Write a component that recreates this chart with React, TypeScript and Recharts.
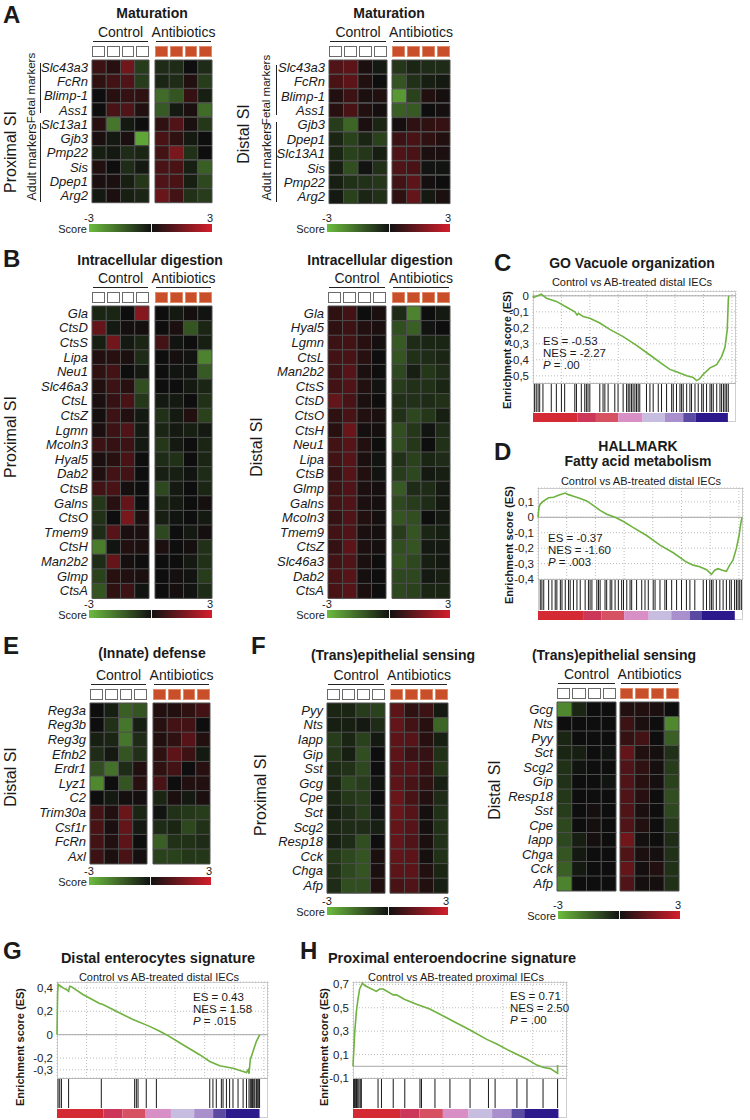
import React from "react";
import {
  BarChart,
  Bar,
  Cell,
  XAxis,
  YAxis,
  LineChart,
  Line,
  CartesianGrid,
  ReferenceLine,
  ReferenceArea,
  ScatterChart,
  Scatter,
} from "recharts";

const FONT = "'Liberation Sans', Arial, Helvetica, sans-serif";

// ---- heatmap data (score -3..3), 4 control + 4 antibiotic samples per gene ----
const A_PROX_GENES = ["Slc43a3", "FcRn", "Blimp-1", "Ass1", "Slc13a1", "Gjb3", "Pmp22", "Sis", "Dpep1", "Arg2"];
const A_PROX_CTRL = [
  [0.7, 0.4, 1.5, -0.8], [0.5, 0.8, 1.0, -0.8], [0, 0.4, 0.6, 0.5], [0, 0.9, 1.0, 0.3], [0.4, -1.8, -0.2, 0],
  [0.2, -0.2, 0.2, -2.6], [-0.3, -0.2, -0.5, -0.4], [0.3, 0, -0.5, -0.2], [0.2, 0.2, -0.3, -0.7], [-0.2, 0.2, -0.3, -0.4],
];
const A_PROX_AB = [
  [-0.5, -0.5, 0, -0.5], [-0.4, -0.5, 0.3, -0.8], [-1.6, -1.2, 0.6, -0.3], [-1.3, -0.2, 0.2, -1.6], [0.5, 1.0, 0.2, -0.7],
  [0.9, 0.5, -0.2, 0], [0.8, 1.6, -0.6, 0], [0.9, 0.9, -0.3, -1.4], [1.0, 0.9, -0.3, -1.0], [1.4, 0.8, -0.6, -0.8],
];

const A_DIST_GENES = ["Slc43a3", "FcRn", "Blimp-1", "Ass1", "Gjb3", "Dpep1", "Slc13A1", "Sis", "Pmp22", "Arg2"];
const A_DIST_CTRL = [
  [1.0, 1.2, 0.2, -0.2], [0.9, 1.2, 0.3, 0], [0.3, 0.7, 0.2, 0.3], [0.4, 0.9, 0.3, 0.1], [-0.8, -1.5, 0.2, -0.4],
  [-0.4, -0.9, -0.4, -0.9], [-0.4, -0.9, -0.7, -0.3], [-0.3, -1.1, -0.1, -0.6], [-0.3, -0.6, -0.6, -0.7], [-0.2, -0.9, -0.4, -0.6],
];
const A_DIST_AB = [
  [-0.7, -0.4, -0.5, -0.5], [-1.2, -0.6, -0.3, -0.2], [-2.4, -0.9, 0.3, 0.1], [-1.4, -1.3, 0, 0.1], [0.1, 0.5, 0.5, 0.6],
  [0.7, 0.9, 0.5, 0.3], [1.0, 0.9, 0.2, 0.2], [1.0, 0.9, -0.1, -0.1], [0.8, 1.2, 0.1, 0], [0.5, 1.3, -0.2, 0.2],
];

const B_PROX_GENES = ["Gla", "CtsD", "CtsS", "Lipa", "Neu1", "Slc46a3", "CtsL", "CtsZ", "Lgmn", "Mcoln3", "Hyal5", "Dab2", "CtsB", "Galns", "CtsO", "Tmem9", "CtsH", "Man2b2", "Glmp", "CtsA"];
const B_PROX_CTRL = [
  [-0.4, -0.4, 0, 1.8], [1.3, -0.2, 0.1, 0.1], [-0.3, 1.5, -0.2, -0.4], [0.3, 0.4, 0.2, -0.5], [0.5, 0.8, 0, -0.2],
  [0.3, 0.7, 0.4, -1.1], [0.2, 0.6, 0.9, -0.7], [0.1, 0.7, 0.3, -0.2], [0.2, 0.7, 1.0, -0.2], [0.7, 0.6, 0.7, -0.2],
  [0.2, 0.4, 0.9, 0], [0.3, 0.8, 0.8, 0], [0.8, 0.9, 0.1, 0], [-0.7, 0.4, 1.3, 0], [-0.6, 0, 1.6, 0.2],
  [-0.5, 1.1, 0.2, 0.2], [-1.9, -0.1, 0.3, 0.2], [-0.5, 1.3, 0.1, 0], [-0.9, 0.4, 0.3, 0.2], [-1.2, 0.5, 0.7, -0.1],
];
const B_PROX_AB = [
  [0, -0.2, 0.1, -0.1], [0, 0.2, -1.2, -0.4], [0.8, -0.1, 0, -0.3], [0, 0.1, -0.1, -2.0], [0, -0.1, -0.1, -1.3],
  [0, 0, -0.2, -0.4], [-0.2, -0.2, 0, -0.6], [-0.6, -0.2, 0.3, -0.9], [-0.4, -0.2, -0.3, -0.2], [-0.7, -0.2, 0, -0.4],
  [-0.5, -0.6, 0, -0.4], [-0.3, -0.3, -0.1, -0.5], [-1.0, -0.2, 0, -0.4], [-0.4, -0.2, 0, 0.1], [-0.3, -0.1, 0, -0.2],
  [-1.0, 0, -0.2, 0.1], [0.2, 0, 0.1, -0.6], [0, 0, -0.2, -0.6], [0, 0.1, -0.1, -0.8], [0, 0.1, -0.1, -0.5],
];

const B_DIST_GENES = ["Gla", "Hyal5", "Lgmn", "CtsL", "Man2b2", "CtsS", "CtsD", "CtsO", "CtsH", "Neu1", "Lipa", "CtsB", "Glmp", "Galns", "Mcoln3", "Tmem9", "CtsZ", "Slc46a3", "Dab2", "CtsA"];
const B_DIST_CTRL = [
  [0.5, 0.8, 0, 0.2], [0.5, 0.7, 0.3, 0.2], [0.7, 0.8, 0.4, 0.1], [0.8, 0.9, 0.4, 0], [0.7, 1.1, 0.2, 0],
  [0.8, 1.0, 0.3, -0.1], [1.3, 0.9, 0.2, 0], [0.5, 0.9, 0.3, 0.2], [0.4, 1.4, 0.1, 0.1], [0.8, 1.1, 0.3, 0],
  [0.8, 1.1, 0.2, -0.1], [0.6, 1.1, 0.3, -0.1], [0.7, 1.0, 0.2, 0.1], [0.8, 1.0, 0.2, 0.1], [0.6, 1.0, 0.3, 0.1],
  [0.8, 1.0, 0.2, 0.1], [0.6, 1.2, 0.2, 0.1], [0.8, 1.0, 0.2, 0], [0.9, 1.1, 0.1, 0], [0.9, 1.1, 0.2, 0],
];
const B_DIST_AB = [
  [-0.5, -2.0, 0, -0.2], [-1.1, -1.4, -0.1, 0], [-1.3, -0.5, -0.4, -0.4], [-1.2, -0.6, -0.5, -0.4], [-1.0, -0.3, -0.7, -0.5],
  [-0.8, -0.6, -0.6, -0.4], [-0.6, -0.6, -0.5, -0.6], [-0.6, -1.0, -0.7, -0.3], [-1.1, -0.7, -0.1, -0.5], [-1.1, -0.7, 0, -0.6],
  [-0.6, -0.9, -0.4, -0.5], [-0.8, -1.0, -0.2, -0.3], [-1.3, -0.5, -0.5, -0.2], [-1.0, -0.8, -0.5, -0.2], [-1.2, -1.1, 0, -0.2],
  [-0.8, -1.2, -0.4, -0.3], [-1.1, -1.2, -0.2, -0.2], [-1.2, -1.0, -0.3, -0.2], [-1.0, -1.0, -0.2, -0.3], [-1.0, -0.9, -0.4, -0.4],
];

const E_GENES = ["Reg3a", "Reg3b", "Reg3g", "Efnb2", "Erdr1", "Lyz1", "C2", "Trim30a", "Csf1r", "FcRn", "Axl"];
const E_CTRL = [
  [0, -0.3, -1.4, -1.2], [0, -0.6, -1.8, -0.3], [-0.3, -0.4, -1.8, -0.5], [-0.5, -0.2, -1.2, -0.6], [-1.1, -1.7, -0.5, 0.3],
  [-2.1, 0, -1.2, 0.4], [0, -0.2, 0.1, 0.1], [0.8, 0.3, 1.4, -0.4], [0.9, 0.2, 1.3, -0.2], [0.8, 0.3, 1.2, 0], [0.7, 0.2, 0.9, 0.1],
];
const E_AB = [
  [0.3, 0.3, 0.5, 0.8], [0.4, 0.8, 0.8, 0], [0.3, 0.5, 1.1, 0.3], [0.5, 1.2, 0.7, -0.2], [0.5, 0.8, 0, 0.4],
  [0.9, 0, 0.3, 0.3], [-0.4, 0.2, -0.2, 0.2], [-0.1, -0.6, -0.7, -0.8], [-0.5, -0.4, -1.0, -0.6], [-1.4, -0.6, -0.6, -0.5], [-0.9, -0.9, -0.7, -0.7],
];

const F_PROX_GENES = ["Pyy", "Nts", "Iapp", "Gip", "Sst", "Gcg", "Cpe", "Sct", "Scg2", "Resp18", "Cck", "Chga", "Afp"];
const F_PROX_CTRL = [
  [-0.4, -0.4, -0.8, -0.9], [-0.3, -0.3, -0.2, -0.5], [-0.8, -0.4, -0.9, -0.2], [-0.7, -0.3, -1.1, 0], [-0.5, -0.6, -1.0, 0],
  [-0.4, -1.0, -0.8, -0.1], [-0.4, -0.7, -0.8, 0], [-0.3, -0.5, -0.8, -0.1], [-0.4, -0.5, -0.5, -0.3], [-0.3, -0.5, -1.1, 0],
  [-0.7, -1.0, -1.2, 0.2], [-0.6, -1.0, -1.2, 0.2], [-0.5, -1.1, -1.1, 0.3],
];
const F_PROX_AB = [
  [1.2, 0.5, 0.7, -0.2], [1.3, 0.8, 0.4, -1.5], [1.2, 1.1, 0.4, -0.3], [1.2, 0.7, 0.6, -0.6], [1.1, 1.1, 0.6, -0.7],
  [1.2, 0.9, 0.5, -0.3], [1.4, 0.9, 0.3, -0.5], [1.4, 1.1, 0.1, -0.6], [1.3, 1.1, 0.1, -0.6], [1.3, 1.0, 0.2, -0.6],
  [1.3, 1.2, 0.1, -0.6], [1.2, 1.2, 0.3, -0.4], [0.9, 1.0, 0.3, -0.3],
];

const F_DIST_GENES = ["Gcg", "Nts", "Pyy", "Sct", "Scg2", "Gip", "Resp18", "Sst", "Cpe", "Iapp", "Chga", "Cck", "Afp"];
const F_DIST_CTRL = [
  [-2.1, -0.4, 0, 0], [0, 0, 0, 0], [-0.4, 0, 0, 0], [-0.4, -0.3, 0, -0.1], [-0.6, -0.1, 0, 0],
  [-0.6, 0, 0, -0.1], [-0.7, 0, 0, 0], [-0.8, 0, 0.1, 0], [-1.0, 0, 0.1, 0], [-1.0, -0.3, 0.1, 0],
  [-1.2, -0.2, 0, 0], [-1.4, -0.2, 0, 0], [-2.0, 0, 0, 0],
];
const F_DIST_AB = [
  [0.3, 0.3, 0.2, 0], [0.7, 0.2, 0, -2.1], [0.6, 0.8, 0, -1.4], [1.3, 0.3, 0.1, -0.6], [1.0, 0.5, 0.1, -0.8],
  [1.0, 0.4, 0.1, -0.9], [1.0, 0.4, 0, -1.1], [1.0, 0.2, 0, -1.0], [1.0, 0.3, 0, -0.7], [1.5, 0.1, 0, -0.5],
  [1.0, 0.2, 0.1, -0.6], [1.3, 0.1, 0.3, -0.6], [1.0, 0.1, 0.1, -0.6],
];

// ---- GSEA running enrichment scores (x = % of ranked list) ----
const C_X = [0, 0.3, 4.1, 6.6, 11.5, 16.4, 20.6, 21.7, 22.4, 24.7, 28.0, 32.9, 37.8, 44.4, 51.0, 57.6, 64.1, 67.4, 70.7, 75.7, 78.9, 80.6, 82.0, 83.9, 87.2, 90.5, 92.9, 94.6, 95.7, 96.2, 96.4];
const C_ES = [0, -0.01, 0.01, -0.015, -0.035, -0.07, -0.1, -0.12, -0.11, -0.13, -0.14, -0.17, -0.21, -0.255, -0.31, -0.37, -0.43, -0.46, -0.475, -0.5, -0.51, -0.53, -0.52, -0.49, -0.45, -0.43, -0.38, -0.32, -0.21, -0.03, 0];
const C_HITS = [0.8, 1.6, 2.5, 3.3, 4.9, 9.0, 11.5, 14.0, 15.6, 20.6, 21.4, 23.8, 25.5, 26.3, 27.1, 28.0, 32.9, 34.5, 35.4, 37.0, 40.3, 41.9, 44.4, 46.1, 46.9, 47.7, 48.5, 49.3, 50.2, 51.0, 51.8, 52.6, 55.9, 57.6, 59.2, 61.7, 63.3, 65.8, 68.3, 69.1, 70.7, 72.4, 73.2, 74.0, 75.7, 77.3, 78.1, 79.8, 81.4, 83.1, 83.9, 85.5, 87.2, 88.0, 88.8, 90.5, 92.1, 92.9, 93.8, 94.6, 95.4, 96.2];

const D_X = [0, 0.5, 1.1, 2.8, 5.2, 7.6, 10.0, 13.3, 14.9, 17.3, 20.6, 23.8, 27.1, 30.3, 33.5, 37.6, 41.7, 46.5, 53.0, 59.5, 66.0, 72.4, 75.7, 78.9, 82.2, 84.6, 86.2, 87.8, 90.3, 91.9, 93.5, 95.1, 96.8, 98.1, 98.7, 99.5];
const D_ES = [0, 0.065, 0.086, 0.106, 0.127, 0.13, 0.143, 0.157, 0.147, 0.137, 0.122, 0.106, 0.076, 0.045, 0.02, 0, -0.027, -0.067, -0.118, -0.18, -0.23, -0.29, -0.31, -0.32, -0.34, -0.37, -0.343, -0.333, -0.345, -0.35, -0.31, -0.278, -0.2, -0.118, -0.057, 0];
const D_HITS = [1.1, 1.9, 2.8, 5.2, 6.8, 8.4, 9.2, 10.9, 11.7, 13.3, 14.9, 15.7, 17.3, 19.0, 20.6, 23.0, 24.6, 25.4, 26.3, 28.7, 29.5, 30.3, 32.7, 33.5, 35.2, 36.0, 37.6, 39.2, 40.8, 41.7, 43.3, 44.9, 45.7, 48.1, 50.6, 52.2, 53.8, 56.2, 57.1, 59.5, 61.9, 62.7, 65.2, 67.6, 70.0, 72.4, 74.1, 76.5, 80.6, 82.2, 83.8, 84.6, 85.4, 87.0, 88.7, 90.3, 91.9, 93.5, 94.3, 95.9, 96.8, 97.6, 98.4, 99.2];

const G_X = [0, 0.3, 0.6, 1.3, 2.8, 4.4, 5.5, 6.0, 6.8, 12.3, 20.2, 21.8, 28.1, 36.0, 43.9, 48.7, 51.8, 59.7, 67.6, 72.4, 77.1, 83.4, 88.2, 89.8, 90.6, 91.0, 91.6, 92.9, 94.5, 95.7, 96.1];
const G_ES = [0, 0.36, 0.43, 0.42, 0.4, 0.386, 0.37, 0.414, 0.41, 0.343, 0.266, 0.257, 0.2, 0.129, 0.071, 0.029, 0, -0.086, -0.171, -0.229, -0.266, -0.286, -0.314, -0.323, -0.3, -0.334, -0.214, -0.143, -0.057, -0.014, 0];
const G_HITS = [0.5, 1.3, 2.1, 5.5, 21.0, 36.8, 37.6, 38.4, 42.3, 47.1, 72.4, 73.9, 75.5, 77.9, 78.7, 80.3, 81.8, 83.4, 85.8, 88.2, 89.8, 91.0, 91.6, 92.1, 92.6, 92.9, 93.4, 93.8, 94.5, 94.9, 95.4, 96.0];

const H_X = [0, 0.8, 1.6, 2.3, 3.1, 4.4, 5.5, 10.9, 12.5, 14.1, 18.8, 20.3, 24.2, 29.7, 35.9, 42.2, 48.4, 54.7, 62.5, 67.2, 73.4, 81.3, 85.9, 89.1, 92.2, 95.6, 95.6];
const H_ES = [0, 0.29, 0.47, 0.57, 0.66, 0.71, 0.69, 0.64, 0.66, 0.66, 0.61, 0.61, 0.57, 0.53, 0.49, 0.43, 0.37, 0.31, 0.23, 0.19, 0.13, 0.06, 0.01, -0.01, -0.02, -0.06, 0.01];
const H_HITS = [0.3, 0.6, 0.9, 1.3, 1.6, 1.9, 2.3, 2.8, 3.4, 3.9, 11.7, 13.3, 18.8, 24.2, 31.3, 32.0, 38.3, 45.3, 54.7, 63.3, 66.4, 76.6, 81.3, 88.8, 95.6];

// ranked-list colour bands [from %, to %, colour]
const BANDS: [number, number, string][] = [
  [0, 22, "#d42a34"], [22, 31, "#cc3658"], [31, 42, "#d65262"], [42, 54, "#d88fc6"],
  [54, 65, "#c7bde0"], [65, 74, "#a98fcb"], [74, 80, "#5a4aa2"], [80, 96, "#2c1a8c"],
];
const GRID_X = [0, 14, 28, 42, 56, 70, 84, 98];

function scoreColor(v: number) {
  const t = Math.min(1, Math.abs(v) / 3);
  const base = [14, 14, 14];
  const end = v >= 0 ? [212, 30, 40] : [108, 188, 62];
  const c = base.map((b, i) => Math.round(b + (end[i] - b) * t));
  return `rgb(${c[0]},${c[1]},${c[2]})`;
}

const Txt = ({ x, y, s = 12, b = false, i = false, a = "l", c = "#1a1a1a", children }: any) => (
  <div
    style={{
      position: "absolute", left: x, top: y,
      transform: `translate(${a === "l" ? 0 : a === "c" ? -50 : -100}%, -50%)`,
      fontSize: s, fontWeight: b ? 700 : 400, fontStyle: i ? "italic" : "normal",
      whiteSpace: "nowrap", lineHeight: 1, color: c, fontFamily: FONT,
    }}
  >
    {children}
  </div>
);

const VTxt = ({ x, y, s = 12, b = false, children }: any) => (
  <div
    style={{
      position: "absolute", left: x, top: y, transform: "translate(-50%, -50%) rotate(-90deg)",
      fontSize: s, fontWeight: b ? 700 : 400, whiteSpace: "nowrap", lineHeight: 1, color: "#1a1a1a", fontFamily: FONT,
    }}
  >
    {children}
  </div>
);

const Box = ({ x, y, w, h, bg = "transparent", border = "none" }: any) => (
  <div style={{ position: "absolute", left: x, top: y, width: w, height: h, background: bg, border, boxSizing: "border-box" }} />
);

const GeneTick = (props: any) => {
  const { x, y, payload } = props;
  return (
    <text x={x} y={y} textAnchor="end" dominantBaseline="central" fontSize={13} fontStyle="italic" fill="#1a1a1a" fontFamily={FONT}>
      {payload.value}
    </text>
  );
};

function HeatBlock({ genes, vals, left, top, w, rowH, labels }: any) {
  const data = genes.map((g: string) => ({ gene: g, s0: 1, s1: 1, s2: 1, s3: 1 }));
  const yW = labels ? 90 : 0;
  return (
    <div style={{ position: "absolute", left: left - yW - 1, top: top - 1 }}>
      <BarChart width={yW + w + 2} height={genes.length * rowH + 2} data={data} layout="vertical"
        margin={{ top: 1, right: 1, bottom: 1, left: 1 }} barCategoryGap={0}>
        <XAxis type="number" domain={[0, 4]} hide />
        <YAxis type="category" dataKey="gene" width={yW} hide={!labels} tick={<GeneTick />}
          tickLine={false} axisLine={false} tickSize={0} tickMargin={4} interval={0} />
        {[0, 1, 2, 3].map((k) => (
          <Bar key={k} dataKey={"s" + k} stackId="h" isAnimationActive={false} stroke="#4e4e4e" strokeWidth={1}>
            {vals.map((row: number[], i: number) => (
              <Cell key={i} fill={scoreColor(row[k])} />
            ))}
          </Bar>
        ))}
      </BarChart>
    </div>
  );
}

function Heatmap({ genes, ctrl, ab, x0, x1, w, top, rowH }: any) {
  const boxes = (x: number, white: boolean) =>
    [0, 1, 2, 3].map((k) => {
      const bw = (w - 6) / 4;
      return (
        <Box key={k} x={x + k * (bw + 2)} y={top - 14} w={bw} h={11}
          bg={white ? "#fff" : "#c94f2a"} border={white ? "1.5px solid #6a6a6a" : "1px solid #e08a6a"} />
      );
    });
  return (
    <>
      <Txt x={x0 + w / 2} y={top - 28} s={14} a="c">Control</Txt>
      <Txt x={x1 + w / 2} y={top - 28} s={14} a="c">Antibiotics</Txt>
      <Box x={x0 + 1} y={top - 19} w={w - 2} h={1.3} bg="#222" />
      <Box x={x1 + 1} y={top - 19} w={w - 2} h={1.3} bg="#222" />
      {boxes(x0, true)}
      {boxes(x1, false)}
      <HeatBlock genes={genes} vals={ctrl} left={x0} top={top} w={w} rowH={rowH} labels />
      <HeatBlock genes={genes} vals={ab} left={x1} top={top} w={w} rowH={rowH} labels={false} />
    </>
  );
}

function ScoreBar({ x, y, w }: any) {
  const half = w / 2;
  return (
    <>
      <Box x={x} y={y} w={half} h={8} bg="linear-gradient(to right, #6cbc3e, #121212)" />
      <Box x={x + half} y={y} w={1} h={8} bg="#e8e8e8" />
      <Box x={x + half + 1} y={y} w={half - 1} h={8} bg="linear-gradient(to right, #121212, #d41e2c)" border="none" />
      <Txt x={x} y={y - 6} s={11} a="c">-3</Txt>
      <Txt x={x + w - 2} y={y - 6} s={11} a="c">3</Txt>
      <Txt x={x - 2} y={y + 5} s={11} a="r">Score</Txt>
    </>
  );
}

const fmtTick = (v: number) => (v === 0 ? "0" : String(v).replace(".", ","));

function Gsea({ x, y, w, h, hitsH, bandH, domain, ticks, xs, es, hits }: any) {
  const axW = 30;
  const pad = 8;
  const curve = xs.map((px: number, i: number) => ({ x: px, y: es[i] }));
  const total = hitsH + bandH;
  const hitY = (bandH + hitsH / 2) / total;
  const bandTop = bandH / total;
  return (
    <>
      <Box x={x} y={y} w={w} h={h + total} border="1px solid #cfcfcf" />
      <div style={{ position: "absolute", left: x - axW, top: y - pad }}>
        <LineChart width={w + axW + 1} height={h + 2 * pad} data={curve} margin={{ top: pad, right: 1, bottom: pad, left: 0 }}>
          <CartesianGrid strokeDasharray="1 2" stroke="#bdbdbd" />
          <XAxis type="number" dataKey="x" domain={[0, 100]} ticks={GRID_X} hide />
          <YAxis type="number" domain={domain} ticks={ticks} width={axW} tickFormatter={fmtTick}
            tick={{ fontSize: 11.5, fill: "#222", fontFamily: FONT }} tickLine={false} axisLine={false}
            tickSize={0} tickMargin={4} allowDataOverflow interval={0} />
          <ReferenceLine y={0} stroke="#a8a8a8" strokeWidth={1} />
          <Line dataKey="y" type="linear" stroke="#6fb23f" strokeWidth={1.6} dot={false} isAnimationActive={false} />
        </LineChart>
      </div>
      <Box x={x} y={y + h} w={w} h={1} bg="#b5b5b5" />
      <div style={{ position: "absolute", left: x, top: y + h }}>
        <ScatterChart width={w} height={total} margin={{ top: 0, right: 0, bottom: 0, left: 0 }}>
          <XAxis type="number" dataKey="x" domain={[0, 100]} hide />
          <YAxis type="number" dataKey="y" domain={[0, 1]} hide />
          {BANDS.map((b, i) => (
            <ReferenceArea key={i} x1={b[0]} x2={b[1]} y1={0} y2={bandTop} fill={b[2]} fillOpacity={1} stroke="none" />
          ))}
          <Scatter
            data={hits.map((p: number) => ({ x: p, y: hitY }))}
            isAnimationActive={false}
            shape={(p: any) => (
              <line x1={p.cx} x2={p.cx} y1={p.cy - hitsH / 2 + 1} y2={p.cy + hitsH / 2 - 1} stroke="#1a1a1a" strokeWidth={1} />
            )}
          />
        </ScatterChart>
      </div>
    </>
  );
}

const Stats = ({ x, y, es, nes, p, s = 11.5 }: any) => (
  <>
    <Txt x={x} y={y} s={s}>ES = {es}</Txt>
    <Txt x={x} y={y + 12} s={s}>NES = {nes}</Txt>
    <Txt x={x} y={y + 24} s={s}><i>P</i> = {p}</Txt>
  </>
);

export default function App() {
  return (
    <div style={{ position: "absolute", left: 0, top: 0, width: 750, height: 1120, background: "#fff", fontFamily: FONT, overflow: "hidden" }}>
      {/* panel letters */}
      <Txt x={3} y={15} s={24} b>A</Txt>
      <Txt x={3} y={259} s={24} b>B</Txt>
      <Txt x={494} y={263} s={24} b>C</Txt>
      <Txt x={494} y={452} s={24} b>D</Txt>
      <Txt x={3} y={646} s={24} b>E</Txt>
      <Txt x={251} y={646} s={24} b>F</Txt>
      <Txt x={3} y={951} s={24} b>G</Txt>
      <Txt x={300} y={951} s={24} b>H</Txt>

      {/* A */}
      <Txt x={152} y={13} s={14} b a="c">Maturation</Txt>
      <Txt x={389} y={13} s={14} b a="c">Maturation</Txt>
      <Heatmap genes={A_PROX_GENES} ctrl={A_PROX_CTRL} ab={A_PROX_AB} x0={92} x1={155} w={57} top={60} rowH={14.3} />
      <Heatmap genes={A_DIST_GENES} ctrl={A_DIST_CTRL} ab={A_DIST_AB} x0={329} x1={392} w={58} top={60} rowH={14.4} />
      <Box x={40} y={63} w={1.2} h={50} bg="#222" />
      <Box x={40} y={123} w={1.2} h={79} bg="#222" />
      <Box x={276} y={65} w={1.2} h={50} bg="#222" />
      <Box x={276} y={122} w={1.2} h={80} bg="#222" />
      <VTxt x={32} y={88} s={11.5}>Fetal markers</VTxt>
      <VTxt x={32} y={162} s={12.5}>Adult markers</VTxt>
      <VTxt x={267} y={90} s={11.5}>Fetal markers</VTxt>
      <VTxt x={267} y={162} s={12.5}>Adult markers</VTxt>
      <VTxt x={11} y={152} s={16}>Proximal SI</VTxt>
      <VTxt x={244} y={134} s={16}>Distal SI</VTxt>
      <ScoreBar x={89} y={224} w={123} />
      <ScoreBar x={327} y={224} w={123} />

      {/* B */}
      <Txt x={150} y={260} s={14} b a="c">Intracellular digestion</Txt>
      <Txt x={380} y={260} s={14} b a="c">Intracellular digestion</Txt>
      <Heatmap genes={B_PROX_GENES} ctrl={B_PROX_CTRL} ab={B_PROX_AB} x0={92} x1={155} w={57} top={306} rowH={14.6} />
      <Heatmap genes={B_DIST_GENES} ctrl={B_DIST_CTRL} ab={B_DIST_AB} x0={328} x1={392} w={58} top={306} rowH={14.6} />
      <VTxt x={11} y={437} s={16}>Proximal SI</VTxt>
      <VTxt x={257} y={447} s={16}>Distal SI</VTxt>
      <ScoreBar x={89} y={610} w={123} />
      <ScoreBar x={327} y={610} w={123} />

      {/* C */}
      <Txt x={632} y={263} s={14} b a="c">GO Vacuole organization</Txt>
      <Txt x={632} y={282} s={11} a="c">Control vs AB-treated distal IECs</Txt>
      <Gsea x={533} y={291} w={203} h={92} hitsH={30} bandH={9} domain={[-0.545, 0.03]}
        ticks={[0, -0.1, -0.2, -0.3, -0.4, -0.5]} xs={C_X} es={C_ES} hits={C_HITS} />
      <VTxt x={507} y={350} s={11} b>Enrichment score (ES)</VTxt>
      <Stats x={543} y={342} es="-0.53" nes="-2.27" p=".00" />

      {/* D */}
      <Txt x={638} y={446} s={14} b a="c">HALLMARK</Txt>
      <Txt x={638} y={461} s={14} b a="c">Fatty acid metabolism</Txt>
      <Txt x={641} y={481} s={11} a="c">Control vs AB-treated distal IECs</Txt>
      <Gsea x={538} y={488} w={205} h={91} hitsH={32} bandH={9} domain={[-0.4, 0.19]}
        ticks={[0.1, 0, -0.1, -0.2, -0.3, -0.4]} xs={D_X} es={D_ES} hits={D_HITS} />
      <VTxt x={509} y={545} s={11} b>Enrichment score (ES)</VTxt>
      <Stats x={548} y={539} es="-0.37" nes="-1.60" p=".003" />

      {/* E */}
      <Txt x={152} y={653} s={14} b a="c">(Innate) defense</Txt>
      <Heatmap genes={E_GENES} ctrl={E_CTRL} ab={E_AB} x0={90} x1={153} w={57} top={703} rowH={14.6} />
      <VTxt x={11} y={777} s={16}>Distal SI</VTxt>
      <ScoreBar x={89} y={877} w={122} />

      {/* F */}
      <Txt x={393} y={655} s={14} b a="c">(Trans)epithelial sensing</Txt>
      <Txt x={614} y={655} s={14} b a="c">(Trans)epithelial sensing</Txt>
      <Heatmap genes={F_PROX_GENES} ctrl={F_PROX_CTRL} ab={F_PROX_AB} x0={327} x1={390} w={58} top={703} rowH={14.6} />
      <Heatmap genes={F_DIST_GENES} ctrl={F_DIST_CTRL} ab={F_DIST_AB} x0={557} x1={620} w={59} top={702} rowH={14.5} />
      <VTxt x={261} y={795} s={16}>Proximal SI</VTxt>
      <VTxt x={495} y={790} s={16}>Distal SI</VTxt>
      <ScoreBar x={327} y={907} w={121} />
      <ScoreBar x={558} y={911} w={122} />

      {/* G */}
      <Txt x={158} y={958} s={14.5} b a="c">Distal enterocytes signature</Txt>
      <Txt x={159} y={977} s={11} a="c">Control vs AB-treated distal IECs</Txt>
      <Gsea x={57} y={982} w={211} h={96} hitsH={31} bandH={9} domain={[-0.37, 0.45]}
        ticks={[0.4, 0.2, 0, -0.2, -0.3]} xs={G_X} es={G_ES} hits={G_HITS} />
      <VTxt x={20} y={1047} s={11} b>Enrichment score (ES)</VTxt>
      <Stats x={193} y={998} es="0.43" nes="1.58" p=".015" />

      {/* H */}
      <Txt x={452} y={958} s={14.5} b a="c">Proximal enteroendocrine signature</Txt>
      <Txt x={456} y={977} s={11} a="c">Control vs AB-treated proximal IECs</Txt>
      <Gsea x={353} y={982} w={214} h={96} hitsH={31} bandH={9} domain={[-0.1, 0.72]}
        ticks={[0.7, 0.5, 0.3, 0.1, -0.1]} xs={H_X} es={H_ES} hits={H_HITS} />
      <VTxt x={324} y={1047} s={11} b>Enrichment score (ES)</VTxt>
      <Stats x={510} y={997} es="0.71" nes="2.50" p=".00" />
    </div>
  );
}
